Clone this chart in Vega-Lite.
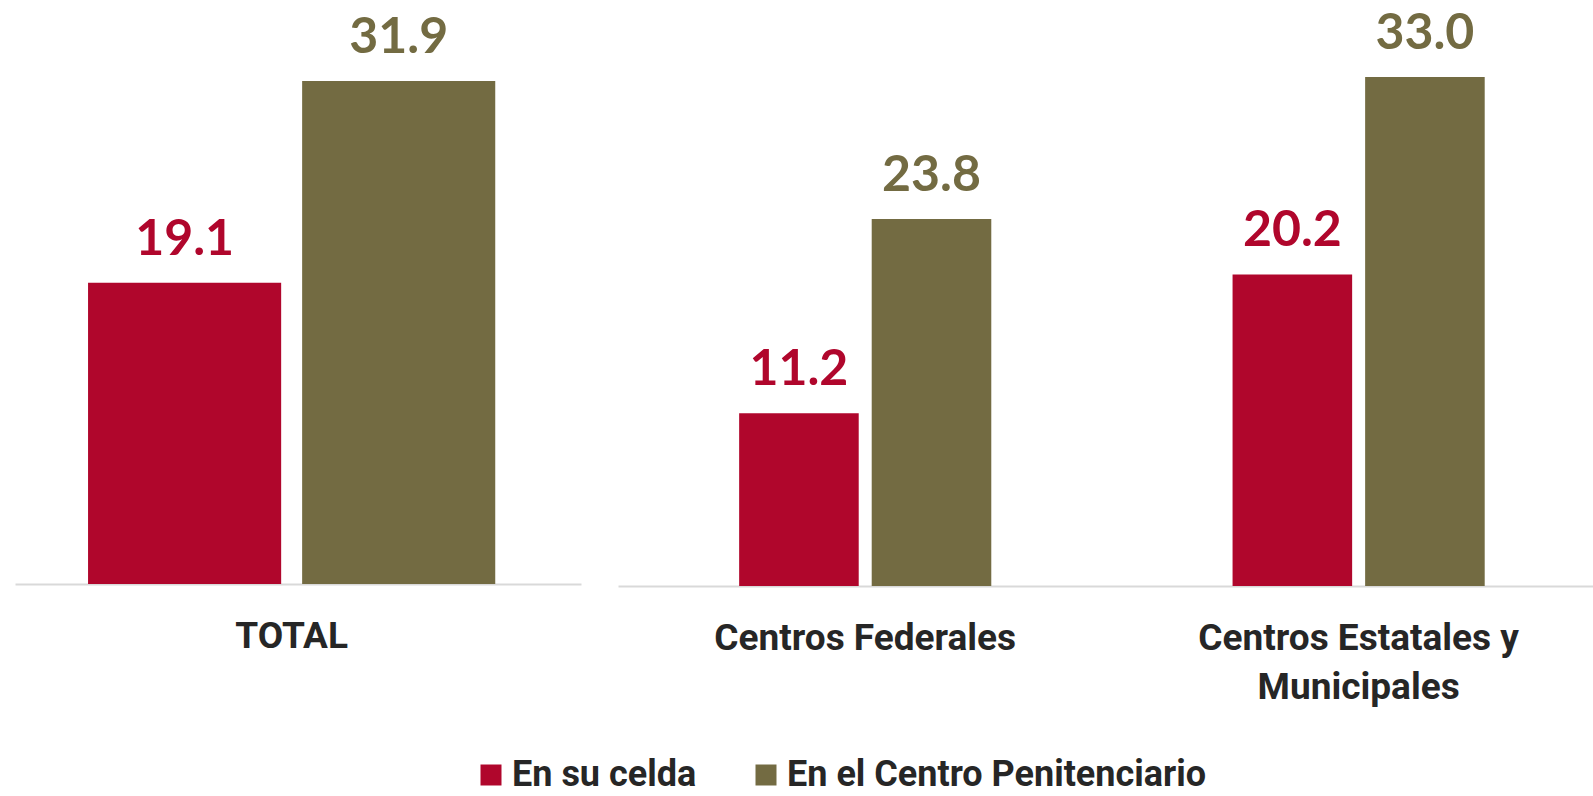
{
  "$schema": "https://vega.github.io/schema/vega-lite/v6.json",
  "padding": {"left": 15, "top": 0, "right": 0, "bottom": 0},
  "background": "white",
  "spacing": 37,
  "data": {"values": [
    {"panel": "A", "group": "TOTAL", "series": "En su celda", "value": 19.1},
    {"panel": "A", "group": "TOTAL", "series": "En el Centro Penitenciario", "value": 31.9},
    {"panel": "B", "group": "Centros Federales", "series": "En su celda", "value": 11.2},
    {"panel": "B", "group": "Centros Federales", "series": "En el Centro Penitenciario", "value": 23.8},
    {"panel": "B", "group": "Centros Estatales y Municipales", "series": "En su celda", "value": 20.2},
    {"panel": "B", "group": "Centros Estatales y Municipales", "series": "En el Centro Penitenciario", "value": 33.0}
  ]},
  "config": {
    "view": {"stroke": null},
    "axis": {
      "domainColor": "#d9d9d9",
      "domainWidth": 2,
      "ticks": false,
      "grid": false,
      "labelFont": "Roboto",
      "labelFontSize": 37,
      "labelFontWeight": "bold",
      "labelColor": "#262626",
      "labelPadding": 34,
      "labelAngle": 0,
      "labelLimit": 0,
      "labelLineHeight": 49
    }
  },
  "resolve": {"scale": {"x": "independent", "y": "independent", "xOffset": "independent"}},
  "hconcat": [
    {
      "width": 566,
      "height": 584,
      "transform": [{"filter": "datum.panel == 'A'"}],
      "encoding": {
        "x": {"field": "group", "type": "nominal", "scale": {"paddingInner": 0, "paddingOuter": 0.195, "align": 0.46}, "axis": {"title": null}},
        "xOffset": {"field": "series", "type": "nominal", "sort": ["En su celda", "En el Centro Penitenciario"], "scale": {"paddingInner": 0.098, "paddingOuter": 0}},
        "y": {"field": "value", "type": "quantitative", "scale": {"domain": [0, 37.03]}, "axis": null},
        "color": {"field": "series", "type": "nominal", "scale": {"domain": ["En su celda", "En el Centro Penitenciario"], "range": ["#b0062c", "#736b42"]},
          "legend": {"title": null, "orient": "none", "legendX": 458, "legendY": 757, "direction": "horizontal", "symbolType": "square", "symbolSize": 441, "symbolStrokeWidth": 0, "labelFont": "Roboto", "labelFontSize": 36, "labelFontWeight": "bold", "labelColor": "#262626", "columnPadding": 51, "labelOffset": 3, "labelLimit": 0}}
      },
      "layer": [
        {"mark": {"type": "bar"}},
        {"mark": {"type": "text", "dy": -28, "baseline": "alphabetic", "font": "Lato", "fontSize": 50, "fontWeight": "bold"},
          "encoding": {"text": {"field": "value", "type": "quantitative", "format": ".1f"}}}
      ]
    },
    {
      "width": 975,
      "height": 586,
      "transform": [{"filter": "datum.panel == 'B'"}],
      "encoding": {
        "x": {"field": "group", "type": "nominal", "sort": ["Centros Federales", "Centros Estatales y Municipales"], "scale": {"paddingInner": 0.489, "paddingOuter": 0.2325, "align": 0.528},
          "axis": {"title": null, "labelExpr": "datum.value == 'Centros Estatales y Municipales' ? ['Centros Estatales y', 'Municipales'] : datum.value"}},
        "xOffset": {"field": "series", "type": "nominal", "sort": ["En su celda", "En el Centro Penitenciario"], "scale": {"paddingInner": 0.098, "paddingOuter": 0}},
        "y": {"field": "value", "type": "quantitative", "scale": {"domain": [0, 38.0]}, "axis": null},
        "color": {"field": "series", "type": "nominal", "scale": {"domain": ["En su celda", "En el Centro Penitenciario"], "range": ["#b0062c", "#736b42"]}}
      },
      "layer": [
        {"mark": {"type": "bar"}},
        {"mark": {"type": "text", "dy": -28, "baseline": "alphabetic", "font": "Lato", "fontSize": 50, "fontWeight": "bold"},
          "encoding": {"text": {"field": "value", "type": "quantitative", "format": ".1f"}}}
      ]
    }
  ]
}
